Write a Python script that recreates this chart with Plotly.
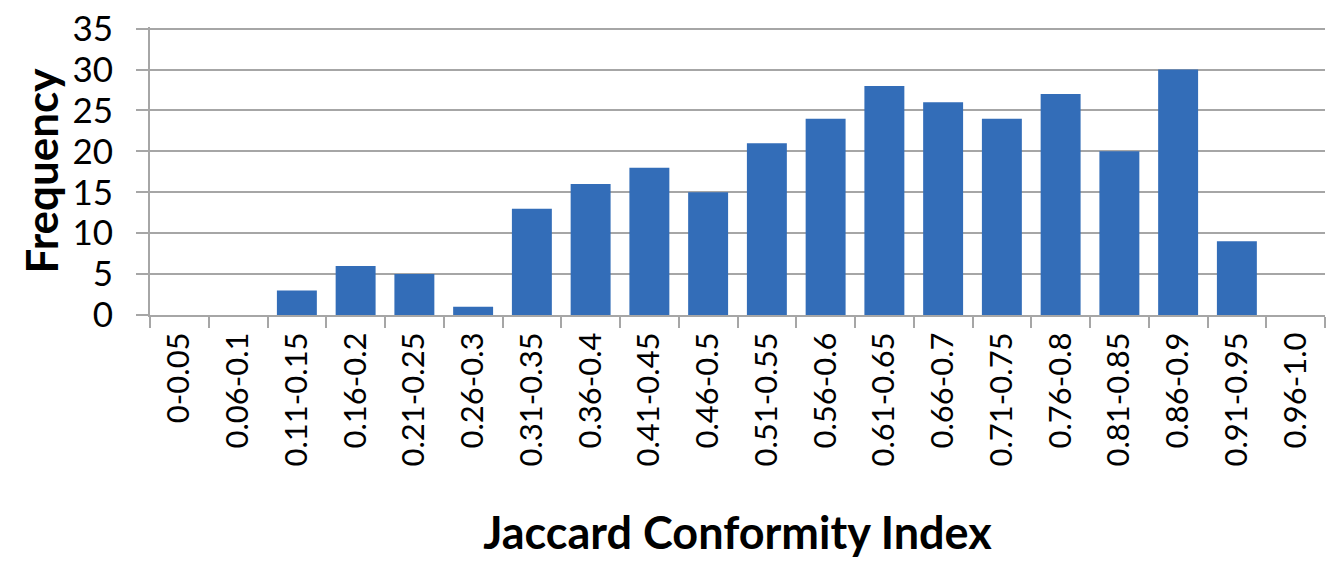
import plotly.graph_objects as go

categories = ["0-0.05", "0.06-0.1", "0.11-0.15", "0.16-0.2", "0.21-0.25", "0.26-0.3",
              "0.31-0.35", "0.36-0.4", "0.41-0.45", "0.46-0.5", "0.51-0.55", "0.56-0.6",
              "0.61-0.65", "0.66-0.7", "0.71-0.75", "0.76-0.8", "0.81-0.85", "0.86-0.9",
              "0.91-0.95", "0.96-1.0"]
frequency = [0, 0, 3, 6, 5, 1, 13, 16, 18, 15, 21, 24, 28, 26, 24, 27, 20, 30, 9, 0]
y_ticks = [0, 5, 10, 15, 20, 25, 30, 35]

FONT = "Lato"
GRID = "#a6a6a6"

fig = go.Figure(go.Bar(
    x=categories, y=frequency,
    marker=dict(color="#336db8", line=dict(width=0)),
))

fig.update_layout(
    width=1334, height=569,
    margin=dict(l=142, r=17, t=19, b=262),
    plot_bgcolor="white", paper_bgcolor="white",
    bargap=0.32,
    showlegend=False,
    font=dict(family=FONT, color="black"),
)
fig.update_xaxes(
    type="category", tickson="boundaries", automargin=False,
    ticks="outside", ticklen=11, tickwidth=2, tickcolor=GRID,
    showline=True, linecolor=GRID, linewidth=2,
    showgrid=False, tickangle=-90,
    ticklabelstandoff=3, ticklabeloverflow="allow",
    tickfont=dict(family=FONT, size=31),
    title=dict(text="<b>Jaccard Conformity Index</b>", font=dict(family=FONT, size=45), standoff=52),
)
fig.update_yaxes(
    range=[0, 35.2], tickvals=y_ticks, automargin=False,
    ticks="outside", ticklen=12, tickwidth=2, tickcolor=GRID,
    showline=True, linecolor=GRID, linewidth=2,
    showgrid=True, gridcolor=GRID, gridwidth=2,
    zeroline=False,
    ticklabelstandoff=16, ticklabeloverflow="allow",
    tickfont=dict(family=FONT, size=35),
    title=dict(text="<b>Frequency</b>", font=dict(family=FONT, size=44), standoff=0),
)

fig.write_html("out.html")
